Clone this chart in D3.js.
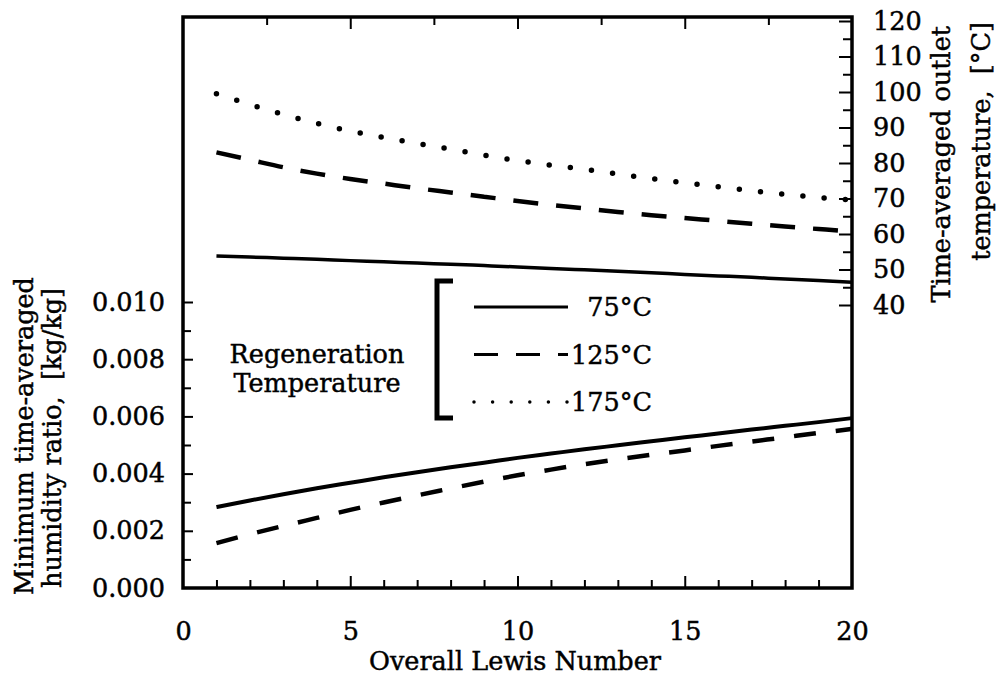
<!DOCTYPE html>
<html>
<head>
<meta charset="utf-8">
<script src="https://cdn.jsdelivr.net/npm/d3@7"></script>
<style>
    body { margin: 0; background: #fff; }
    svg { display: block; }
    text { font-family: "DejaVu Serif", serif; font-size: 25.5px; fill: #000; stroke: #000; stroke-width: 0.45px; }
</style>
</head>
<body>
<svg width="1004" height="682"></svg>
<script>
// overall Lewis number (x) for every curve
const lewis = [1, 2, 3, 4, 5, 6, 7, 8, 9, 10, 11, 12, 13, 14, 15, 16, 17, 18, 19, 20];

// time-averaged outlet temperature [°C], right axis
const outletTemp75 = [53.8, 53.5, 53.2, 52.9, 52.5, 52.2, 51.8, 51.5, 51.1, 50.7, 50.3, 49.9, 49.5, 49.1, 48.6, 48.2, 47.8, 47.3, 46.9, 46.4];
const outletTemp125 = [83.0, 80.9, 78.8, 77.0, 75.5, 74.2, 72.9, 71.7, 70.5, 69.3, 68.2, 67.2, 66.2, 65.3, 64.5, 63.7, 62.9, 62.1, 61.4, 60.7];
const outletTemp175 = [99.5, 96.5, 93.7, 91.2, 89.0, 87.2, 85.5, 83.9, 82.2, 80.7, 79.4, 78.2, 76.9, 75.6, 74.4, 73.3, 72.2, 71.2, 70.3, 69.6];

// minimum time-averaged humidity ratio [kg/kg], left axis
const humidity75 = [0.00283, 0.00306, 0.00328, 0.00349, 0.00368, 0.00387, 0.00405, 0.00422, 0.00438, 0.00455, 0.00470, 0.00485, 0.00499, 0.00513, 0.00527, 0.00540, 0.00554, 0.00567, 0.00580, 0.00594];
const humidity125 = [0.00157, 0.00188, 0.00217, 0.00245, 0.00273, 0.00299, 0.00324, 0.00348, 0.00372, 0.00394, 0.00414, 0.00433, 0.00450, 0.00466, 0.00481, 0.00497, 0.00512, 0.00527, 0.00542, 0.00556];

// ticks
const xMajor = [0, 5, 10, 15, 20];
const xMinor = d3.range(1, 20);
const xTopTicks = [2.5, 5, 7.5, 10, 12.5, 15, 17.5];
const humidityMajor = [0, 0.002, 0.004, 0.006, 0.008, 0.010];
const humidityMinor = [0.001, 0.003, 0.005, 0.007, 0.009];
const tempMajor = d3.range(40, 121, 10);
const tempMinor = d3.range(45, 120, 10);

const legendItems = ['75°C', '125°C', '175°C'];

const frame = {left: 183, right: 852, top: 17, bottom: 588};

const x = d3.scaleLinear().domain([0, 20]).range([frame.left, frame.right]);
const yHum = d3.scaleLinear().domain([0, 0.010]).range([frame.bottom, 302]);
const yTemp = d3.scaleLinear().domain([40, 120]).range([305, 21]);

const svg = d3.select('svg');

// line styles: solid, long dash, dots
const styles = [
    {dash: null, width: 3.5, cap: 'butt'},
    {dash: '25,18', width: 4.5, cap: 'butt'},
    {dash: '0,21.3', width: 5.5, cap: 'round'}
];

const curves = [
    {y: yTemp, values: outletTemp75, style: styles[0]},
    {y: yTemp, values: outletTemp125, style: styles[1]},
    {y: yTemp, values: outletTemp175, style: styles[2]},
    {y: yHum, values: humidity75, style: {dash: null, width: 4, cap: 'butt'}},
    {y: yHum, values: humidity125, style: {dash: '22,20', width: 4.5, cap: 'butt'}}
];

const curvesGroup = svg.append('g').attr('class', 'curves');
curves.forEach(c => {
    const line = d3.line()
        .x((d, i) => x(lewis[i]))
        .y(d => c.y(d))
        .curve(d3.curveMonotoneX);
    curvesGroup.append('path')
        .datum(c.values)
        .attr('d', line)
        .attr('fill', 'none')
        .attr('stroke', '#000')
        .attr('stroke-width', c.style.width)
        .attr('stroke-linecap', c.style.cap)
        .attr('stroke-dasharray', c.style.dash);
});

// inward ticks, no domain path (frame drawn separately)
const ticks = (axis, at, values, size) => {
    const g = svg.append('g')
        .attr('transform', at)
        .call(axis.tickValues(values).tickSize(-size).tickFormat(''));
    g.select('.domain').remove();
    g.selectAll('line').attr('stroke', '#000').attr('stroke-width', 2);
    return g;
};

ticks(d3.axisBottom(x), `translate(0,${frame.bottom})`, xMajor.slice(1, -1), 12);
ticks(d3.axisBottom(x), `translate(0,${frame.bottom})`, xMinor.filter(d => d % 5), 8);
ticks(d3.axisTop(x), `translate(0,${frame.top})`, xTopTicks.filter(d => d % 5 === 0), 12);
ticks(d3.axisTop(x), `translate(0,${frame.top})`, xTopTicks.filter(d => d % 5), 8);
ticks(d3.axisLeft(yHum), `translate(${frame.left},0)`, humidityMajor.slice(1), 10);
ticks(d3.axisLeft(yHum), `translate(${frame.left},0)`, humidityMinor, 8);
ticks(d3.axisRight(yTemp), `translate(${frame.right},0)`, tempMajor, 13);
ticks(d3.axisRight(yTemp), `translate(${frame.right},0)`, tempMinor, 9);

// tick labels
const labels = (axis, at, values, fmt, pad) => {
    const g = svg.append('g')
        .attr('transform', at)
        .call(axis.tickValues(values).tickSize(0).tickPadding(pad).tickFormat(fmt));
    g.select('.domain').remove();
    g.attr('font-family', null).attr('font-size', null);
    return g;
};

labels(d3.axisBottom(x), `translate(0,${frame.bottom})`, xMajor, d3.format('d'), 34);
labels(d3.axisLeft(yHum), `translate(${frame.left},0)`, humidityMajor, d3.format('.3f'), 18);
labels(d3.axisRight(yTemp), `translate(${frame.right},0)`, tempMajor, d3.format('d'), 21);

// frame
svg.append('rect')
    .attr('x', frame.left)
    .attr('y', frame.top)
    .attr('width', frame.right - frame.left)
    .attr('height', frame.bottom - frame.top)
    .attr('fill', 'none')
    .attr('stroke', '#000')
    .attr('stroke-width', 3.5);

// axis titles
svg.append('text')
    .attr('x', 515)
    .attr('y', 670)
    .attr('text-anchor', 'middle')
    .text('Overall Lewis Number');

const vertical = (xPos, yPos, anchor, str) => svg.append('text')
    .attr('transform', `translate(${xPos},${yPos}) rotate(-90)`)
    .attr('text-anchor', anchor)
    .text(str);

vertical(33, 436, 'middle', 'Minimum time-averaged');
vertical(61, 438, 'middle', 'humidity ratio,\u00a0\u00a0[kg/kg]');
vertical(950, 26, 'end', 'Time-averaged outlet');
vertical(990, 22, 'end', 'temperature,\u00a0\u00a0[°C]');

// legend
const legend = svg.append('g').attr('class', 'legend');

legend.append('text').attr('x', 317).attr('y', 363).attr('text-anchor', 'middle').text('Regeneration');
legend.append('text').attr('x', 317).attr('y', 392).attr('text-anchor', 'middle').text('Temperature');

legend.append('path')
    .attr('d', 'M453,281H437V418H453')
    .attr('fill', 'none')
    .attr('stroke', '#000')
    .attr('stroke-width', 5);

const legendRows = legend.selectAll('.row')
    .data(legendItems)
    .join('g')
        .attr('class', 'row')
        .attr('transform', (d, i) => `translate(0,${307 + i * 47.5})`);

legendRows.append('line')
    .attr('x1', 474)
    .attr('x2', 568)
    .attr('stroke', '#000')
    .attr('stroke-width', (d, i) => i === 2 ? 3.5 : 3)
    .attr('stroke-linecap', (d, i) => styles[i].cap)
    .attr('stroke-dasharray', (d, i) => i === 1 ? '24,18' : i === 2 ? '0,18.6' : null);

legendRows.append('text')
    .attr('x', 652)
    .attr('dy', '0.36em')
    .attr('text-anchor', 'end')
    .text(d => d);
</script>
</body>
</html>
